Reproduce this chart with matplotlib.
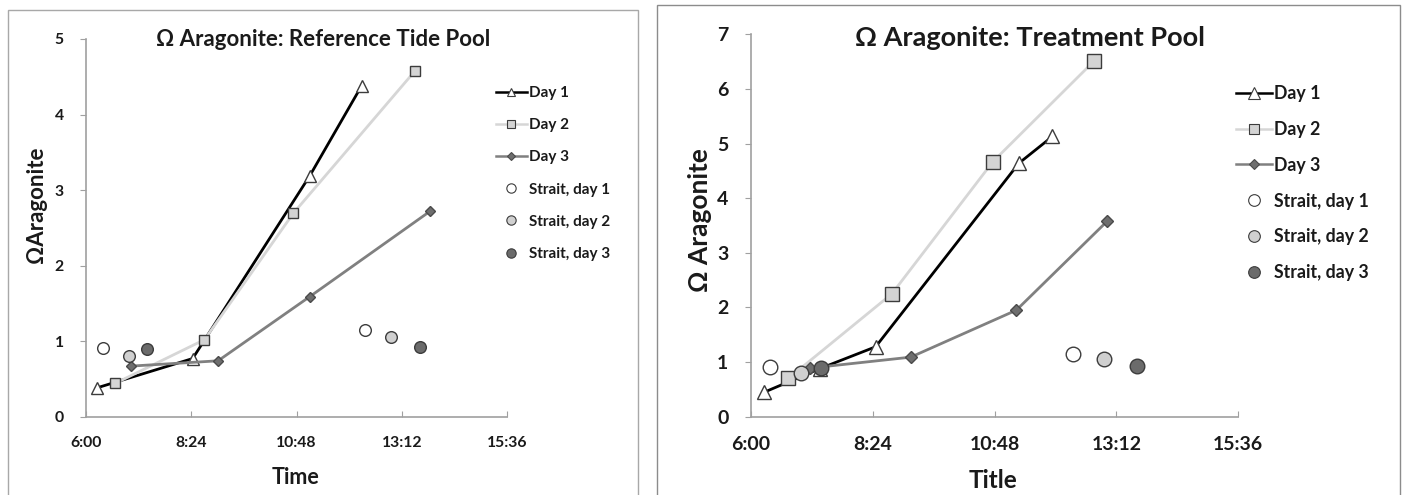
import matplotlib.pyplot as plt
from matplotlib.patches import Rectangle
from matplotlib.lines import Line2D

# times in decimal hours, values = Omega aragonite
ref_day1_t = [6.24, 8.43, 11.10, 12.28]
ref_day1_v = [0.38, 0.77, 3.19, 4.38]
ref_day2_t = [6.66, 8.70, 10.72, 13.50]
ref_day2_v = [0.44, 1.02, 2.69, 4.58]
ref_day3_t = [7.03, 9.01, 11.10, 13.84]
ref_day3_v = [0.67, 0.74, 1.59, 2.72]

trt_day1_t = [6.27, 7.36, 8.46, 11.28, 11.94]
trt_day1_v = [0.45, 0.88, 1.28, 4.64, 5.13]
trt_day2_t = [6.74, 8.78, 10.77, 12.76]
trt_day2_v = [0.70, 2.25, 4.67, 6.51]
trt_day3_t = [7.17, 9.15, 11.23, 13.02]
trt_day3_v = [0.89, 1.09, 1.95, 3.58]

strait1_t = [6.38, 12.35]
strait1_v = [0.91, 1.15]
strait2_t = [6.99, 12.95]
strait2_v = [0.80, 1.06]
strait3_t = [7.38, 13.61]
strait3_v = [0.89, 0.92]

xticks = [6.0, 8.4, 10.8, 13.2, 15.6]
xtick_labels = ["6:00", "8:24", "10:48", "13:12", "15:36"]
labels = ["Day 1", "Day 2", "Day 3", "Strait, day 1", "Strait, day 2", "Strait, day 3"]

plt.rcParams['font.family'] = ['Lato', 'DejaVu Sans']
TXT = '#1a1a1a'
SPINE = '#a0a0a0'
EDGE = '#3c3c3c'

fig = plt.figure(figsize=(14.05, 4.95), dpi=100)

# chart frames
fig.patches.append(Rectangle((8 / 1405, -0.01), 630 / 1405, 1 - 10 / 495 + 0.01,
                             transform=fig.transFigure, fill=False, ec='#a8a8a8', lw=1))
fig.patches.append(Rectangle((657 / 1405, -0.01), 743 / 1405, 1 - 5 / 495 + 0.01,
                             transform=fig.transFigure, fill=False, ec='#8c8c8c', lw=1))


def draw_panel(ax, days, ymax, ms, tick_fs, title, title_fs, title_xy, ylab, ylab_fs, ylab_xy,
               xlab, xlab_fs, xlab_xy, leg_fs, leg_xy, leg_space):
    styles = [
        dict(color='black', lw=2.0, marker='^', mfc='white', mec=EDGE, ms=ms),
        dict(color='#d6d6d6', lw=2.0, marker='s', mfc='#d4d4d4', mec=EDGE, ms=ms * 0.95),
        dict(color='#808080', lw=2.0, marker='D', mfc='#6e6e6e', mec='#4a4a4a', ms=ms * 0.6),
    ]
    handles = []
    for (t, v), st in zip(days, styles):
        h, = ax.plot(t, v, mew=1.0, zorder=3, **st)
        handles.append(h)
    for t, v, fc in [(strait1_t, strait1_v, 'white'), (strait2_t, strait2_v, '#d0d0d0'),
                     (strait3_t, strait3_v, '#6b6b6b')]:
        h, = ax.plot(t, v, ls='none', marker='o', mfc=fc, mec=EDGE, mew=1.0, ms=ms * 1.05, zorder=4)
        handles.append(h)

    ax.set_xlim(6.0, 15.6)
    ax.set_ylim(0, ymax)
    ax.set_xticks(xticks)
    ax.set_xticklabels(xtick_labels)
    ax.set_yticks(range(0, ymax + 1))
    for s in ['top', 'right']:
        ax.spines[s].set_visible(False)
    for s in ['left', 'bottom']:
        ax.spines[s].set_color(SPINE)
        ax.spines[s].set_linewidth(1.2)
    ax.tick_params(axis='y', direction='out', length=4, color=SPINE, pad=12,
                   labelsize=tick_fs, labelcolor=TXT)
    ax.tick_params(axis='x', direction='in', length=4, color=SPINE, pad=14,
                   labelsize=tick_fs, labelcolor=TXT)
    for lab in ax.get_xticklabels() + ax.get_yticklabels():
        lab.set_fontweight('bold')

    fig.text(title_xy[0], title_xy[1], title, ha='center', va='center',
             fontsize=title_fs, fontweight='bold', color=TXT)
    fig.text(ylab_xy[0], ylab_xy[1], ylab, ha='center', va='center', rotation=90,
             fontsize=ylab_fs, fontweight='bold', color=TXT)
    fig.text(xlab_xy[0], xlab_xy[1], xlab, ha='center', va='center',
             fontsize=xlab_fs, fontweight='bold', color=TXT)

    leg_handles = []
    for h in handles:
        leg_handles.append(Line2D([], [], color=h.get_color(), lw=h.get_linewidth() * 0.9,
                                  ls=h.get_linestyle(), marker=h.get_marker(),
                                  mfc=h.get_markerfacecolor(), mec=h.get_markeredgecolor(),
                                  ms=h.get_markersize() * 0.8, mew=0.8))
    leg = ax.legend(leg_handles, labels, loc='upper left', bbox_to_anchor=leg_xy,
                    bbox_transform=fig.transFigure, frameon=False, fontsize=leg_fs,
                    handlelength=2.0, handletextpad=0.15, labelspacing=leg_space,
                    borderpad=0, borderaxespad=0)
    for tx in leg.get_texts():
        tx.set_fontweight('bold')
        tx.set_color(TXT)


ax1 = fig.add_axes([86 / 1405, 1 - 416.7 / 495, 421.3 / 1405, 377.7 / 495])
draw_panel(ax1, [(ref_day1_t, ref_day1_v), (ref_day2_t, ref_day2_v), (ref_day3_t, ref_day3_v)],
           5, 8, 11.3, "Ω Aragonite: Reference Tide Pool", 16, (323 / 1405, 1 - 40 / 495),
           "ΩAragonite", 16, (36 / 1405, 1 - 205 / 495), "Time", 15.5, (296 / 1405, 1 - 478 / 495),
           11, (496 / 1405, 1 - 86 / 495), 1.19)

ax2 = fig.add_axes([750.7 / 1405, 1 - 416.7 / 495, 487.6 / 1405, 382.4 / 495])
draw_panel(ax2, [(trt_day1_t, trt_day1_v), (trt_day2_t, trt_day2_v), (trt_day3_t, trt_day3_v)],
           7, 10, 14, "Ω Aragonite: Treatment Pool", 19.5, (1030 / 1405, 1 - 38 / 495),
           "Ω Aragonite", 19, (700 / 1405, 1 - 220 / 495), "Title", 17.5, (993 / 1405, 1 - 480 / 495),
           12.8, (1236 / 1405, 1 - 85 / 495), 1.06)

fig.savefig("out.png", dpi=100)
